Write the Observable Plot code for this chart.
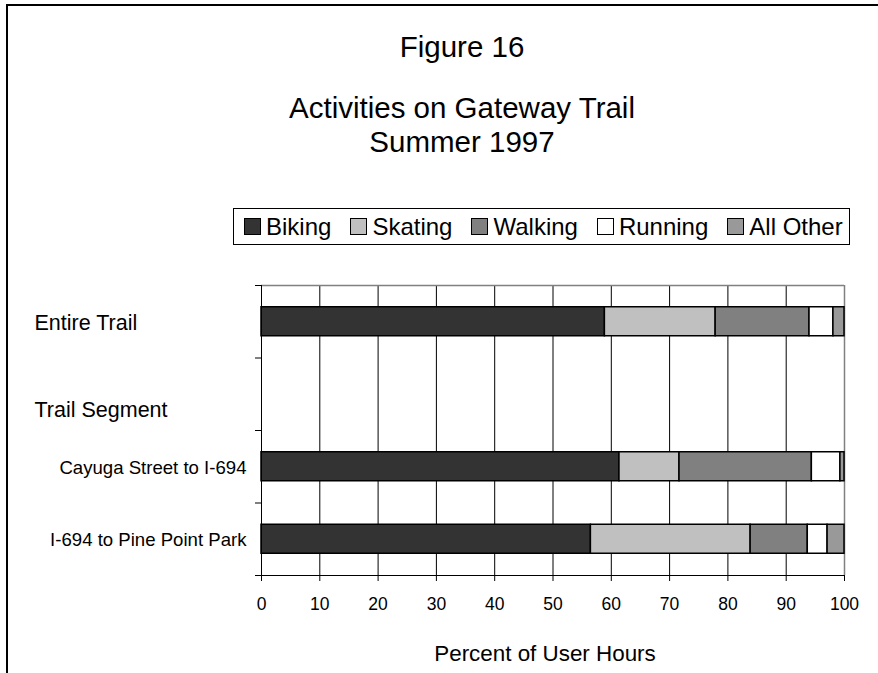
<!DOCTYPE html>
<html>
<head>
<meta charset="utf-8">
<script src="https://cdn.jsdelivr.net/npm/d3@7"></script>
<script src="https://cdn.jsdelivr.net/npm/@observablehq/plot@0.6"></script>
<style>
  html, body { margin: 0; padding: 0; background: #fff; overflow: hidden; }
  #wrap { position: relative; width: 878px; height: 673px; overflow: hidden; font-family: "Liberation Sans", Arial, sans-serif; color: #000; }
  #border { position: absolute; left: 6px; top: 4px; width: 3000px; height: 3000px; border: 2px solid #000; box-sizing: border-box; }
  .title { position: absolute; left: 262px; width: 400px; text-align: center; white-space: nowrap; font-size: 29.5px; line-height: 34px; }
  #legend { position: absolute; left: 233px; top: 208px; width: 617px; height: 37px; box-sizing: border-box; border: 1px solid #000; display: flex; align-items: center; gap: 19px; padding-left: 10px; font-size: 24px; background: #fff; }
  .item { display: flex; align-items: center; white-space: nowrap; }
  .sw { width: 17px; height: 17px; border: 1px solid #000; box-sizing: border-box; margin-right: 5px; }
  #chart { position: absolute; left: 0; top: 250px; }
</style>
</head>
<body>
<div id="wrap">
  <div id="border"></div>
  <div class="title" id="t1" style="top:30px;"></div>
  <div class="title" id="t2" style="top:91px;"></div>
  <div class="title" id="t3" style="top:125px;"></div>
  <div id="legend"></div>
  <div id="chart"></div>
</div>
<script>
// ---- data ----
const figureTitle = "Figure 16";
const chartTitle = "Activities on Gateway Trail";
const chartSubtitle = "Summer 1997";
const xLabel = "Percent of User Hours";

const categories = ["Entire Trail", "Trail Segment", "Cayuga Street to I-694", "I-694 to Pine Point Park"];
const trails = ["Entire Trail", "Cayuga Street to I-694", "I-694 to Pine Point Park"];
const activities = ["Biking", "Skating", "Walking", "Running", "All Other"];
const biking   = [58.9, 61.4, 56.5];
const skating  = [19.0, 10.3, 27.4];
const walking  = [16.1, 22.7,  9.8];
const running  = [ 4.1,  4.9,  3.4];
const allOther = [ 1.9,  0.7,  2.9];
const xTicks = [0, 10, 20, 30, 40, 50, 60, 70, 80, 90, 100];
const colors = ["#333333", "#c0c0c0", "#808080", "#ffffff", "#999999"];

const series = [biking, skating, walking, running, allOther];
const data = trails.flatMap((t, i) => activities.map((a, j) => ({
  trail: t, row: categories.indexOf(t), activity: a, value: series[j][i]
})));

document.getElementById("t1").textContent = figureTitle;
document.getElementById("t2").textContent = chartTitle;
document.getElementById("t3").textContent = chartSubtitle;

const legend = document.getElementById("legend");
activities.forEach((a, j) => {
  const it = document.createElement("div");
  it.className = "item";
  const sw = document.createElement("div");
  sw.className = "sw";
  sw.style.background = colors[j];
  const tx = document.createElement("span");
  tx.textContent = a;
  it.appendChild(sw); it.appendChild(tx);
  legend.appendChild(it);
});

const labels = [
  {text: categories[0], y: 0.5, anchor: "start", size: 21.5, dx: -227, dy: 1},
  {text: categories[1], y: 1.5, anchor: "start", size: 21.5, dx: -227, dy: 16},
  {text: categories[2], y: 2.5, anchor: "end", size: 18.6, dx: -15, dy: 1},
  {text: categories[3], y: 3.5, anchor: "end", size: 18.6, dx: -15, dy: 1}
];

const plot = Plot.plot({
  width: 878,
  height: 423,
  marginTop: 35,
  marginBottom: 98,
  marginLeft: 261,
  marginRight: 34,
  style: {fontFamily: "Liberation Sans, Arial, sans-serif", background: "transparent", overflow: "visible"},
  x: {domain: [0, 100]},
  y: {domain: [0, categories.length], reverse: true},
  color: {domain: activities, range: colors},
  marks: [
    Plot.ruleX(xTicks.slice(1, -1), {stroke: "#000", strokeWidth: 1}),
    Plot.ruleX([100], {stroke: "#808080", strokeWidth: 1.5}),
    Plot.ruleY([0], {stroke: "#808080", strokeWidth: 1.5}),
    Plot.rectX(data, {
      x: "value",
      y1: d => d.row + 0.3,
      y2: d => d.row + 0.7,
      fill: "activity",
      stroke: "#000",
      strokeWidth: 1.5
    }),
    Plot.ruleX([0], {stroke: "#000", strokeWidth: 1}),
    Plot.ruleY([categories.length], {stroke: "#000", strokeWidth: 1}),
    Plot.axisX({ticks: xTicks, tickSize: 6, tickPadding: 16, fontSize: 17.5, label: null, stroke: "#000"}),
    Plot.axisY({ticks: d3.range(categories.length + 1), tickSize: 6, tickFormat: () => "", label: null}),
    ...labels.map(l => Plot.text([l], {
      frameAnchor: "left", y: "y", text: "text", textAnchor: l.anchor,
      dx: l.dx, dy: l.dy, fontSize: l.size, fill: "#000"
    })),
    Plot.text([xLabel], {frameAnchor: "bottom", text: d => d, dx: -8, dy: 85, fontSize: 22.4, fill: "#000"})
  ]
});
document.getElementById("chart").appendChild(plot);
</script>
</body>
</html>
